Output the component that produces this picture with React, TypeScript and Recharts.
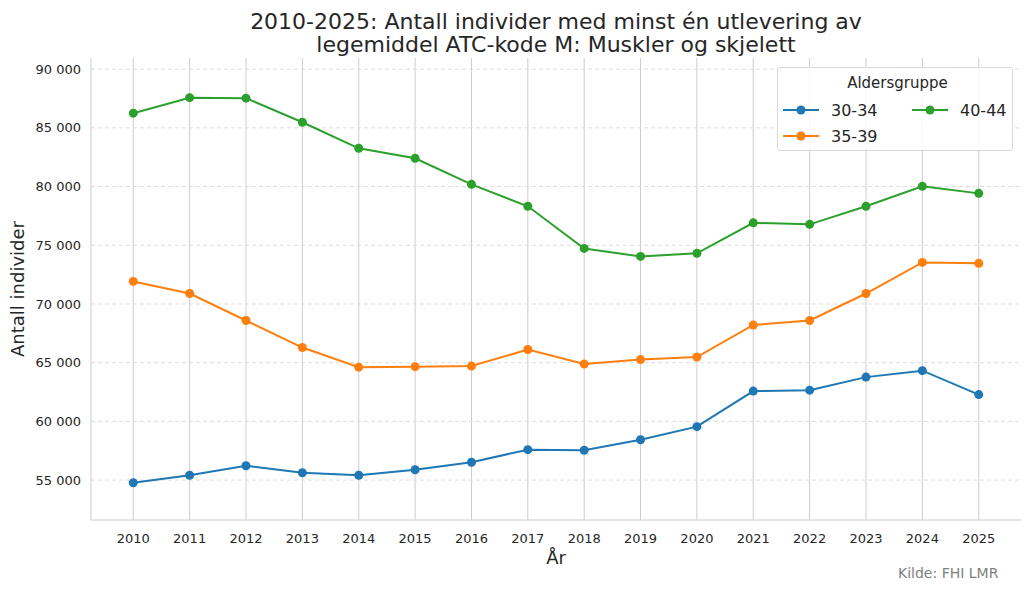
import { LineChart, Line, XAxis, YAxis, CartesianGrid, Label } from "recharts";

const years = [2010, 2011, 2012, 2013, 2014, 2015, 2016, 2017, 2018, 2019, 2020, 2021, 2022, 2023, 2024, 2025];

const ages3034 = [54770, 55410, 56220, 55620, 55410, 55880, 56520, 57590, 57540, 58440, 59550, 62580, 62660, 63770, 64320, 62280];
const ages3539 = [71920, 70890, 68590, 66290, 64620, 64660, 64710, 66120, 64880, 65260, 65480, 68210, 68590, 70890, 73540, 73460];
const ages4044 = [86250, 87570, 87530, 85480, 83260, 82410, 80190, 78320, 74730, 74050, 74310, 76910, 76780, 78320, 80020, 79420];

const yTicks = [55000, 60000, 65000, 70000, 75000, 80000, 85000, 90000];

const xDomain = [2009.25, 2025.75];
const yDomain = [51600, 90950];

const series = [
  { key: "a3034", name: "30-34", color: "#1f77b4", values: ages3034 },
  { key: "a3539", name: "35-39", color: "#ff7f0e", values: ages3539 },
  { key: "a4044", name: "40-44", color: "#2ca02c", values: ages4044 },
];

const data = years.map((year, i) => {
  const row: Record<string, number> = { year };
  series.forEach((s) => (row[s.key] = s.values[i]));
  return row;
});

const font = "'DejaVu Sans', sans-serif";
const fmt = (v: number) => v.toLocaleString("en-US").replace(",", "\u00A0");

// grid lines only at the tick values, not at the plot edges
const vGrid = ({ xAxis, offset }: any) =>
  typeof xAxis?.scale === "function"
    ? years.map((y) => xAxis.scale(y))
    : years.map((y) => offset.left + ((y - xDomain[0]) / (xDomain[1] - xDomain[0])) * offset.width);

const hGrid = ({ yAxis, offset }: any) =>
  typeof yAxis?.scale === "function"
    ? yTicks.map((t) => yAxis.scale(t))
    : yTicks.map((t) => offset.top + ((yDomain[1] - t) / (yDomain[1] - yDomain[0])) * offset.height);

function LegendBox() {
  const item = (s: (typeof series)[number]) => (
    <div key={s.key} style={{ display: "flex", alignItems: "center", height: 26 }}>
      <svg width={36} height={12} style={{ marginRight: 12 }}>
        <line x1={0} y1={6} x2={36} y2={6} stroke={s.color} strokeWidth={2} />
        <circle cx={18} cy={6} r={4.5} fill={s.color} />
      </svg>
      <span>{s.name}</span>
    </div>
  );
  return (
    <div
      style={{
        position: "absolute",
        left: 777,
        top: 67,
        width: 236,
        height: 84,
        border: "1px solid #d9d9d9",
        borderRadius: 3,
        background: "rgba(255,255,255,0.85)",
        fontFamily: font,
        color: "#262626",
        boxSizing: "border-box",
        padding: "6px 0 0 5px",
      }}
    >
      <div style={{ textAlign: "center", fontSize: 15, marginBottom: 5 }}>Aldersgruppe</div>
      <div style={{ display: "flex", fontSize: 16 }}>
        <div style={{ width: 129 }}>{series.slice(0, 2).map(item)}</div>
        <div>{series.slice(2).map(item)}</div>
      </div>
    </div>
  );
}

export default function App() {
  return (
    <div style={{ position: "absolute", left: 0, top: 0, width: 1030, height: 591, background: "#fff" }}>
      <div
        style={{
          position: "absolute",
          left: 91,
          width: 930,
          top: 10,
          textAlign: "center",
          fontFamily: font,
          fontSize: 22,
          lineHeight: "23px",
          color: "#262626",
        }}
      >
        2010-2025: Antall individer med minst én utlevering av
        <br />
        legemiddel ATC-kode M: Muskler og skjelett
      </div>
      <LineChart width={1030} height={591} data={data} margin={{ top: 58, right: 9, bottom: 41, left: 11 }}>
        <CartesianGrid horizontal={false} stroke="#cccccc" strokeWidth={1} verticalCoordinatesGenerator={vGrid} />
        <CartesianGrid
          vertical={false}
          stroke="#dddddd"
          strokeDasharray="4 3"
          strokeWidth={1}
          horizontalCoordinatesGenerator={hGrid}
        />
        <XAxis
          dataKey="year"
          type="number"
          domain={xDomain}
          ticks={years}
          interval={0}
          tickLine={false}
          axisLine={{ stroke: "#cccccc" }}
          tick={{ fill: "#262626", fontSize: 13, fontFamily: font }}
          tickMargin={8}
          height={30}
        >
          <Label value="År" position="insideBottom" offset={-14} style={{ fill: "#262626", fontSize: 18, fontFamily: font }} />
        </XAxis>
        <YAxis
          domain={yDomain}
          ticks={yTicks}
          allowDataOverflow
          tickFormatter={fmt}
          tickLine={false}
          axisLine={{ stroke: "#cccccc" }}
          tick={{ fill: "#262626", fontSize: 13, fontFamily: font }}
          tickMargin={4}
          width={80}
        >
          <Label
            value="Antall individer"
            angle={-90}
            position="insideLeft"
            offset={7}
            style={{ textAnchor: "middle", fill: "#262626", fontSize: 18, fontFamily: font }}
          />
        </YAxis>
        {series.map((s) => (
          <Line
            key={s.key}
            dataKey={s.key}
            name={s.name}
            stroke={s.color}
            strokeWidth={2}
            dot={{ r: 4.5, fill: s.color, stroke: s.color, strokeWidth: 0 }}
            activeDot={false}
            isAnimationActive={false}
          />
        ))}
      </LineChart>
      <LegendBox />
      <div style={{ position: "absolute", left: 898, top: 565, fontFamily: font, fontSize: 14, color: "#808080" }}>
        Kilde: FHI LMR
      </div>
    </div>
  );
}
